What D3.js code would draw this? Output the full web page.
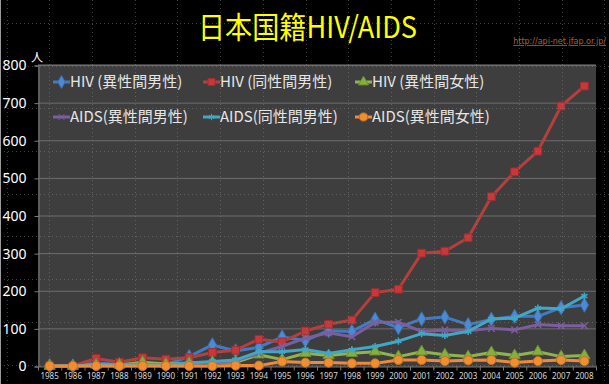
<!DOCTYPE html>
<html>
<head>
<meta charset="utf-8">
<script src="https://cdn.jsdelivr.net/npm/d3@7"></script>
<style>
  body { margin: 0; background: #000; }
  svg { display: block; }
  text { font-family: "Noto Sans CJK JP", "Noto Sans", sans-serif; }
</style>
</head>
<body>
<div id="chart"></div>
<script>
// data
var years = ["1985","1986","1987","1988","1989","1990","1991","1992","1993","1994","1995","1996",
             "1997","1998","1999","2000","2001","2002","2003","2004","2005","2006","2007","2008"];
var hivHeteroMale = [1,0,8,4,6,4,25,56,40,50,77,68,94,92,124,102,125,130,110,124,132,132,155,162];
var hivHomoMale   = [2,0,20,10,22,18,22,36,42,71,64,93,111,122,195,204,300,305,341,450,516,571,691,744];
var hivHeteroFemale = [0,0,3,3,10,5,8,10,10,30,17,34,28,34,38,25,38,30,25,36,28,38,25,28];
var aidsHeteroMale = [0,0,2,2,3,3,5,10,14,34,52,74,88,78,116,116,92,96,94,100,96,110,107,107];
var aidsHomoMale   = [0,0,3,2,3,3,8,12,16,38,38,44,33,43,52,66,86,81,92,125,127,154,152,186];
var aidsHeteroFemale = [0,0,0,0,0,0,0,0,1,1,12,9,9,7,7,16,16,13,15,16,9,13,16,13];
var yTicks = [0,100,200,300,400,500,600,700,800];

var series = [
    {name: "HIV (異性間男性)", values: hivHeteroMale, color: "#3f7cc6", fill: "#4a8ad6", symbol: d3.symbolDiamond, size: 60},
    {name: "HIV (同性間男性)", values: hivHomoMale, color: "#b3403d", fill: "#c8383a", symbol: d3.symbolSquare, size: 60},
    {name: "HIV (異性間女性)", values: hivHeteroFemale, color: "#8fb34e", fill: "#86b03e", symbol: d3.symbolTriangle, size: 55},
    {name: "AIDS(異性間男性)", values: aidsHeteroMale, color: "#7c5ea0", fill: null, symbol: d3.symbolX, size: 30},
    {name: "AIDS(同性間男性)", values: aidsHomoMale, color: "#40a8c4", fill: null, symbol: d3.symbolAsterisk, size: 35},
    {name: "AIDS(異性間女性)", values: aidsHeteroFemale, color: "#ef8a3a", fill: "#f28e30", symbol: d3.symbolCircle, size: 65}
];

var W = 609, H = 384;
var plot = {left: 38, right: 596, top: 64, bottom: 367};

var svg = d3.select("#chart").append("svg")
    .attr("width", W)
    .attr("height", H);

svg.append("rect").attr("width", W).attr("height", H).attr("fill", "#000");

// plot area
svg.append("rect")
    .attr("x", plot.left).attr("y", plot.top)
    .attr("width", plot.right - plot.left).attr("height", plot.bottom - plot.top)
    .attr("fill", "#3e3e3e");

var x = d3.scaleBand().domain(years).range([plot.left, plot.right]);
var y = d3.scaleLinear().domain([0, 800]).range([366, 65]);

// horizontal gridlines
svg.append("g").selectAll("line")
    .data(yTicks.slice(1))
    .enter().append("line")
    .attr("x1", plot.left).attr("x2", plot.right)
    .attr("y1", function(d) { return y(d) + 0.5; })
    .attr("y2", function(d) { return y(d) + 0.5; })
    .attr("stroke", "#6e6e6e")
    .attr("stroke-width", 1);

// y axis
var yAxis = svg.append("g")
    .attr("transform", "translate(" + (plot.left + 0.5) + ",0.5)")
    .call(d3.axisLeft(y).tickValues(yTicks).tickSize(4).tickPadding(8));
yAxis.select(".domain").attr("stroke", "#7a7a7a");
yAxis.selectAll(".tick line").attr("stroke", "#7a7a7a");
yAxis.selectAll("text")
    .attr("fill", "#fff")
    .style("font-size", "14px")
    .style("font-family", "'Noto Sans', sans-serif");

// x axis
var xAxis = svg.append("g")
    .attr("transform", "translate(0," + (y(0) + 0.5) + ")")
    .call(d3.axisBottom(x).tickSize(0).tickPadding(7));
xAxis.select(".domain").attr("stroke", "#7a7a7a");
xAxis.selectAll("text")
    .attr("fill", "#d8d8d8")
    .style("font-size", "8px")
    .style("font-family", "'Noto Sans', sans-serif");
// ticks between categories
xAxis.append("g").selectAll("line")
    .data(years.concat(["end"]))
    .enter().append("line")
    .attr("x1", function(d, i) { return plot.left + i * x.bandwidth() + 0.5; })
    .attr("x2", function(d, i) { return plot.left + i * x.bandwidth() + 0.5; })
    .attr("y1", 0).attr("y2", 4)
    .attr("stroke", "#7a7a7a");

// lines and markers
var line = d3.line()
    .x(function(d, i) { return x(years[i]) + x.bandwidth() / 2; })
    .y(function(d) { return y(d); });

series.forEach(function(s) {
    svg.append("path")
        .datum(s.values)
        .attr("d", line)
        .attr("fill", "none")
        .attr("stroke", s.color)
        .attr("stroke-width", 3)
        .attr("stroke-linejoin", "round");

    svg.append("g").selectAll("path")
        .data(s.values)
        .enter().append("path")
        .attr("transform", function(d, i) {
            return "translate(" + (x(years[i]) + x.bandwidth() / 2) + "," + y(d) + ")";
        })
        .attr("d", d3.symbol().type(s.symbol).size(s.size))
        .attr("fill", s.fill ? s.fill : "none")
        .attr("stroke", s.fill ? d3.color(s.fill).darker(0.6) : s.color)
        .attr("stroke-width", s.fill ? 1 : 1.5);
});

// legend
var legendCols = [53, 203, 355];
var legendRows = [82, 117];
series.forEach(function(s, i) {
    var lx = legendCols[i % 3], ly = legendRows[Math.floor(i / 3)];
    var g = svg.append("g").attr("transform", "translate(" + lx + "," + ly + ")");
    g.append("line")
        .attr("x1", 0).attr("x2", 17)
        .attr("stroke", s.color).attr("stroke-width", 3);
    g.append("path")
        .attr("transform", "translate(8.5,0)")
        .attr("d", d3.symbol().type(s.symbol).size(s.size * 0.8))
        .attr("fill", s.fill ? s.fill : "none")
        .attr("stroke", s.fill ? d3.color(s.fill).darker(0.6) : s.color)
        .attr("stroke-width", 1);
    g.append("text")
        .attr("x", 17)
        .attr("y", 0)
        .attr("dy", "0.35em")
        .attr("fill", "#e6e6e6")
        .style("font-size", "15px")
        .text(s.name);
});

// unit label
svg.append("text")
    .attr("x", 37).attr("y", 62)
    .attr("text-anchor", "middle")
    .attr("fill", "#fff")
    .style("font-size", "12px")
    .text("人");

// title
svg.append("text")
    .attr("x", 198).attr("y", 38)
    .attr("textLength", 219)
    .attr("lengthAdjust", "spacingAndGlyphs")
    .attr("fill", "#ffff00")
    .style("font-size", "30px")
    .text("日本国籍HIV/AIDS");

svg.append("text")
    .attr("x", 606).attr("y", 44)
    .attr("text-anchor", "end")
    .attr("fill", "#a8622e")
    .style("font-size", "8px")
    .style("text-decoration", "underline")
    .style("font-family", "'DejaVu Sans', sans-serif")
    .text("http://api-net.jfap.or.jp/");

// dotted slide grid over everything
var gridStep = 42.7;
var gx = d3.range(6.6, W, gridStep), gy = d3.range(22.9, H, gridStep);
var grid = svg.append("g")
    .attr("stroke", "#8a8a8a")
    .attr("stroke-opacity", 0.45)
    .attr("stroke-dasharray", "1,3");
grid.selectAll(".gv").data(gx).enter().append("line")
    .attr("x1", function(d) { return Math.round(d) + 0.5; })
    .attr("x2", function(d) { return Math.round(d) + 0.5; })
    .attr("y1", 0).attr("y2", H);
grid.selectAll(".gh").data(gy).enter().append("line")
    .attr("y1", function(d) { return Math.round(d) + 0.5; })
    .attr("y2", function(d) { return Math.round(d) + 0.5; })
    .attr("x1", 0).attr("x2", W);

svg.append("line")
    .attr("x1", 0.5).attr("x2", 0.5).attr("y1", 0).attr("y2", H)
    .attr("stroke", "#9a9a9a");
</script>
</body>
</html>
